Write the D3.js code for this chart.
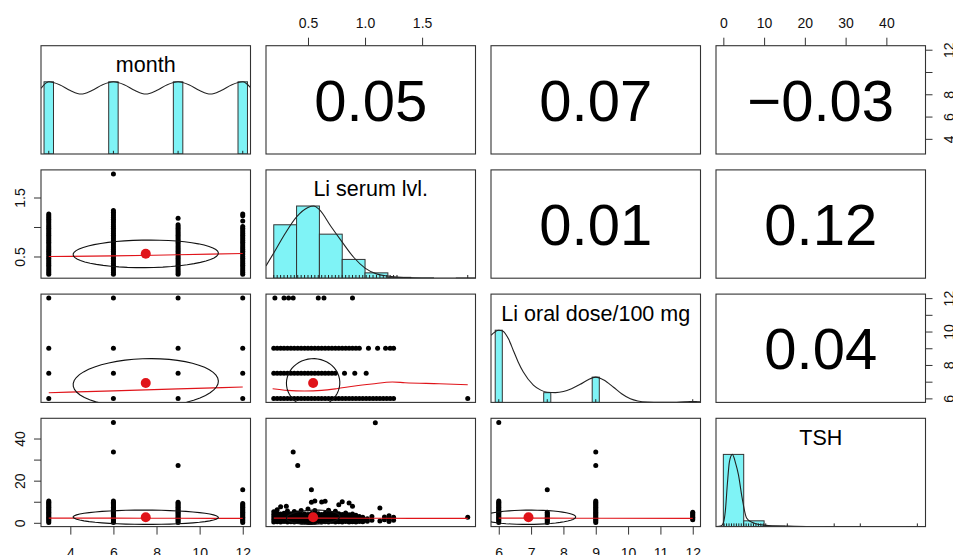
<!DOCTYPE html>
<html>
<head>
<meta charset="utf-8">
<script src="https://cdn.jsdelivr.net/npm/d3@7"></script>
<style>
  body { margin: 0; background: #fff; }
  svg { display: block; font-family: "Liberation Sans", Arial, Helvetica, sans-serif; }
</style>
</head>
<body>
<div id="chart"></div>
<script>
// Variables (diagonal titles) and their plot ranges
var varNames = ["month", "Li serum lvl.", "Li oral dose/100 mg", "TSH"];
var domains = [[2.64, 12.36], [0.132, 1.968], [5.76, 12.24], [-1.8, 49.6]];

// Axis ticks
var monthTicks = [4, 6, 8, 10, 12];
var liTicks = [0.5, 1.0, 1.5];
var doseTicks = [6, 7, 8, 9, 10, 11, 12];
var tshTicks = [0, 10, 20, 30, 40];
var monthSideLabels = ["4", "6", "8", "", "12"];
var liSideLabels = ["0.5", "", "1.5"];
var doseSideLabels = ["6", "", "8", "", "10", "", "12"];
var tshSideLabels = ["0", "", "20", "", "40"];

// Correlations (upper panels)
var corrLabels = { "0-1": "0.05", "0-2": "0.07", "0-3": "\u22120.03", "1-2": "0.01", "1-3": "0.12", "2-3": "0.04" };
var corrValues = { "1-0": 0.05, "2-0": 0.07, "3-0": -0.03, "2-1": 0.01, "3-1": 0.12, "3-2": 0.04 };

// Means and standard deviations (for the red dot and ellipse)
var means = [7.5, 0.545, 6.92, 2.63];
var sds = [3.37, 0.234, 1.46, 3.4];

// Diagonal histograms (relative heights)
var monthValues = [3, 6, 9, 12];
var monthRel = [1, 1, 1, 1];
var doseValues = [6, 7.5, 9, 12];
var doseRel = [1, 0.135, 0.35, 0.012];
var liBreaks = [0.2, 0.4, 0.6, 0.8, 1.0, 1.2, 1.4, 1.6, 1.8, 2.0];
var liRel = [0.74, 1, 0.61, 0.26, 0.074, 0.012, 0.004, 0, 0.002];
var tshBreaks = [0, 5, 10, 15, 20, 25, 30, 35, 40, 45, 50];
var tshRel = [1, 0.08, 0.006, 0.002, 0, 0.001, 0.001, 0, 0, 0.001];

// Density curves (scaled to max 1)
var monthDens = [[2.64, 0.91], [3, 1.0], [3.5, 0.96], [4, 0.88], [4.5, 0.83], [5, 0.88], [5.5, 0.96], [6, 1.0],
  [6.5, 0.96], [7, 0.88], [7.5, 0.83], [8, 0.88], [8.5, 0.96], [9, 1.0], [9.5, 0.96], [10, 0.88], [10.5, 0.83],
  [11, 0.88], [11.5, 0.96], [12, 1.0], [12.36, 0.92]];
var liDens = [[0.132, 0.17], [0.2, 0.35], [0.3, 0.62], [0.4, 0.85], [0.5, 0.98], [0.55, 1.0], [0.6, 0.95],
  [0.7, 0.72], [0.8, 0.5], [0.9, 0.29], [1.0, 0.14], [1.1, 0.06], [1.2, 0.03], [1.3, 0.012], [1.4, 0.004],
  [1.5, 0], [1.968, 0]];
var doseDens = [[5.76, 0.93], [6.0, 1.0], [6.12, 0.99], [6.3, 0.88], [6.45, 0.72], [6.6, 0.56], [6.76, 0.42],
  [7.07, 0.24], [7.3, 0.17], [7.5, 0.14], [7.75, 0.135], [8.0, 0.15], [8.25, 0.19], [8.52, 0.25], [8.75, 0.31],
  [9.0, 0.35], [9.25, 0.31], [9.55, 0.21], [9.8, 0.12], [10.07, 0.05], [10.3, 0.02], [10.6, 0.005], [11.0, 0.001],
  [11.5, 0.002], [12.0, 0.012], [12.24, 0.01]];
var tshDens = [[-1.8, 0], [-0.5, 0.01], [0, 0.05], [0.5, 0.22], [1.0, 0.6], [1.5, 0.9], [2.2, 1.0], [3.0, 0.88],
  [3.7, 0.72], [4.6, 0.4], [5.7, 0.12], [7.0, 0.06], [8.0, 0.04], [10, 0.02], [12, 0.01], [16, 0.006],
  [20, 0.002], [30, 0.001], [49.6, 0]];

// Observed levels
var liLevels = [0.20, 0.23, 0.26, 0.29, 0.32, 0.35, 0.38, 0.41, 0.44, 0.47, 0.50, 0.53, 0.56, 0.59, 0.62, 0.65,
  0.68, 0.71, 0.74, 0.77, 0.80, 0.83, 0.86, 0.89, 0.92, 0.95, 0.98, 1.01, 1.04, 1.07, 1.10, 1.13, 1.16, 1.19,
  1.22, 1.25, 1.28];
var tshLevels = [0.2, 0.8, 1.4, 2.0, 2.6, 3.2, 3.8, 4.4, 5.0, 5.6, 6.2, 6.8, 7.4, 8.0, 8.6, 9.2, 9.8, 10.4];
var tshOutliers = [15.7, 27.2, 33.6, 47.6];

// Scatter groups
var monthLi = [
  { g: 3, lo: 0.2, top: 1.22, extra: [] },
  { g: 6, lo: 0.2, top: 1.28, extra: [1.9] },
  { g: 9, lo: 0.2, top: 1.04, extra: [1.15] },
  { g: 12, lo: 0.2, top: 1.01, extra: [1.10, 1.19, 1.22] }
];
var monthDose = [[3, [6, 7.5, 9, 12]], [6, [6, 7.5, 9, 12]], [9, [6, 7.5, 9, 12]], [12, [6, 7.5, 9, 12]]];
var monthTsh = [
  { g: 3, lo: 0.2, top: 10.4, extra: [] },
  { g: 6, lo: 0.2, top: 10.4, extra: [33.6, 47.6] },
  { g: 9, lo: 0.2, top: 9.8, extra: [27.2] },
  { g: 12, lo: 0.2, top: 9.2, extra: [15.7] }
];
var doseLi = [
  { g: 6, lo: 0.2, top: 1.25, extra: [1.9] },
  { g: 7.5, lo: 0.2, top: 0.74, extra: [0.82, 0.91, 1.01] },
  { g: 9, lo: 0.2, top: 0.95, extra: [1.03, 1.11, 1.18, 1.22, 1.25] },
  { g: 12, lo: 9, top: 0, extra: [0.21, 0.29, 0.33, 0.37, 0.59, 0.64, 0.89] }
];
var doseTsh = [
  { g: 6, lo: 0.2, top: 10.4, extra: [47.6] },
  { g: 7.5, lo: 0.2, top: 5.0, extra: [15.7] },
  { g: 9, lo: 0.2, top: 10.4, extra: [27.2, 33.6] },
  { g: 12, lo: 1.4, top: 5.0, extra: [] }
];
var liTsh = [
  [0.20, [0.4, 1.6, 2.8, 4.0, 5.2]], [0.23, [0.5, 1.7, 2.9, 4.4, 6.2]], [0.26, [0.4, 1.6, 3.0, 4.2, 7.6]],
  [0.29, [0.6, 1.8, 2.9, 4.5]], [0.31, [7.9]], [0.32, [0.4, 1.5, 2.7, 4.0, 5.6]], [0.35, [0.5, 1.7, 3.0, 4.3]],
  [0.37, [33.6]], [0.38, [0.4, 1.6, 2.8, 4.1, 5.4]], [0.41, [0.6, 1.8, 3.1, 4.6, 27.2]],
  [0.44, [0.4, 1.5, 2.7, 3.9, 5.8]], [0.47, [0.5, 1.7, 2.9, 4.2]], [0.50, [0.4, 1.6, 2.8, 4.0, 6.6]],
  [0.53, [0.5, 1.8, 3.0, 4.4, 9.8, 15.7]], [0.56, [0.4, 1.6, 2.7, 4.1, 5.9, 10.3]], [0.59, [0.6, 1.7, 2.9, 4.3]],
  [0.62, [0.4, 1.5, 2.8, 4.0, 9.9]], [0.65, [0.5, 1.7, 3.0, 4.5, 10.2]], [0.68, [0.4, 1.6, 2.8, 4.2, 6.0]],
  [0.71, [0.6, 1.8, 2.9, 4.4]], [0.74, [0.4, 1.5, 2.7, 3.9, 5.5]], [0.77, [0.5, 1.7, 3.0, 4.3, 8.6]],
  [0.80, [0.4, 1.6, 2.8, 4.0, 10.0]], [0.83, [0.6, 1.8, 3.0, 4.6]], [0.86, [0.4, 1.5, 2.7, 3.8, 9.4]],
  [0.89, [0.5, 1.7, 2.9, 4.2, 7.8]], [0.92, [0.4, 1.6, 2.8, 3.6]], [0.95, [0.6, 1.8, 3.0]],
  [0.98, [0.5, 1.6, 2.6]], [1.02, [0.7, 1.9]], [1.06, [1.2, 3.0]], [1.09, [47.5]], [1.13, [0.9, 7.0]],
  [1.17, [1.4, 2.8]], [1.21, [0.6, 2.1, 3.4]], [1.25, [1.2, 2.6]], [1.9, [2.6]]
];

// Smoothers (lowess)
var loess = {
  "1-0": [[3, 0.50], [6, 0.51], [9, 0.53], [12, 0.55]],
  "2-0": [[3, 6.34], [6, 6.45], [9, 6.57], [12, 6.68]],
  "3-0": [[3, 2.2], [6, 2.2], [9, 2.15], [12, 2.1]],
  "2-1": [[0.19, 6.58], [0.32, 6.48], [0.47, 6.44], [0.62, 6.48], [0.75, 6.58], [0.91, 6.74], [1.06, 6.86],
    [1.24, 6.98], [1.35, 6.94], [1.65, 6.88], [1.9, 6.82]],
  "3-1": [[0.2, 2.2], [0.6, 2.2], [1.0, 2.15], [1.4, 2.1], [1.9, 2.1]],
  "3-2": [[6, 2.2], [7.5, 2.2], [9, 2.15], [12, 2.1]]
};

//Set layout
var W = 953, H = 555;
var px0 = 41, py0 = 45.7, pw = 209.5, ph = 108.3, stepX = 225, stepY = 124.2;
var histCol = "#7ff3f6";

var svg = d3.select("#chart").append("svg")
    .attr("width", W)
    .attr("height", H);
svg.append("rect").attr("width", W).attr("height", H).attr("fill", "#fff");
svg.append("defs").append("clipPath").attr("id", "clip")
    .append("rect").attr("width", pw).attr("height", ph);

var xs = domains.map(function(d) { return d3.scaleLinear().domain(d).range([0, pw]); });
var ys = domains.map(function(d) { return d3.scaleLinear().domain(d).range([ph, 0]); });
var hy = d3.scaleLinear().domain([0, 1.5]).range([ph, 0]);

// Build the point lists from the groups
function fromGroups(groups, levels, groupIsX) {
    var pts = [];
    groups.forEach(function(gr) {
        levels.filter(function(v) { return v >= gr.lo && v <= gr.top; })
            .concat(gr.extra)
            .forEach(function(v) { pts.push(groupIsX ? [gr.g, v] : [v, gr.g]); });
    });
    return pts;
}
var points = {
    "1-0": fromGroups(monthLi, liLevels, true),
    "2-0": [],
    "3-0": fromGroups(monthTsh, tshLevels, true),
    "2-1": fromGroups(doseLi, liLevels, false),
    "3-1": [],
    "3-2": fromGroups(doseTsh, tshLevels, true)
};
monthDose.forEach(function(m) { m[1].forEach(function(v) { points["2-0"].push([m[0], v]); }); });
liTsh.forEach(function(l) { l[1].forEach(function(v) { points["3-1"].push([l[0], v]); }); });

var diag = [
    { values: monthValues, rel: monthRel, dens: monthDens, rug: monthValues },
    { breaks: liBreaks, rel: liRel, dens: liDens, rug: liLevels.concat([1.9]) },
    { values: doseValues, rel: doseRel, dens: doseDens, rug: doseValues },
    { breaks: tshBreaks, rel: tshRel, dens: tshDens, rug: tshLevels.concat(tshOutliers) }
];

// psych-style ellipse at one standard deviation
function ellipse(xm, ym, sx, sy, r) {
    var t = r === 0 ? 1 / Math.sqrt(2) : Math.sign(r) / Math.sqrt(2);
    var a = Math.sqrt(1 + r), b = Math.sqrt(1 - r);
    return d3.range(52).map(function(k) {
        var ang = k * 2 * Math.PI / 51, c = Math.cos(ang), s = Math.sin(ang);
        return [xm + sx * (c * a * t - s * b * t), ym + sy * (c * a * t + s * b * t)];
    });
}

for (var i = 0; i < 4; i++) {
    for (var j = 0; j < 4; j++) {
        var g = svg.append("g").attr("transform", "translate(" + (px0 + j * stepX) + "," + (py0 + i * stepY) + ")");
        var inner = g.append("g").attr("clip-path", "url(#clip)");
        var x = xs[j];

        if (i === j) {
            var d = diag[i];
            if (d.values) {
                var diffs = d3.pairs(d.values).map(function(p) { return p[1] - p[0]; });
                var half = d3.min(diffs) * (d.values.length - 1) / 41;
                inner.selectAll(".bar").data(d.values).enter().append("rect")
                    .attr("x", function(v) { return x(v - half); })
                    .attr("y", function(v, k) { return hy(d.rel[k]); })
                    .attr("width", function(v) { return x(v + half) - x(v - half); })
                    .attr("height", function(v, k) { return ph - hy(d.rel[k]); })
                    .attr("fill", histCol).attr("stroke", "#333").attr("stroke-width", 1);
            } else {
                inner.selectAll(".bar").data(d.rel).enter().append("rect")
                    .attr("x", function(v, k) { return x(d.breaks[k]); })
                    .attr("y", function(v) { return hy(v); })
                    .attr("width", function(v, k) { return x(d.breaks[k + 1]) - x(d.breaks[k]); })
                    .attr("height", function(v) { return ph - hy(v); })
                    .attr("fill", histCol).attr("stroke", "#333").attr("stroke-width", 1);
            }
            inner.append("path")
                .attr("d", d3.line().x(function(p) { return x(p[0]); }).y(function(p) { return hy(p[1]); })
                    .curve(d3.curveMonotoneX)(d.dens))
                .attr("fill", "none").attr("stroke", "#222").attr("stroke-width", 1.1);
            inner.selectAll(".rug").data(d.rug).enter().append("line")
                .attr("x1", function(v) { return x(v); }).attr("x2", function(v) { return x(v); })
                .attr("y1", ph).attr("y2", ph - 3.2)
                .attr("stroke", "#222").attr("stroke-width", 1);
            g.append("text")
                .attr("x", pw / 2).attr("y", 26.5)
                .attr("text-anchor", "middle")
                .style("font-size", "21.5px")
                .text(varNames[i]);
        } else if (i < j) {
            g.append("text")
                .attr("x", pw / 2).attr("y", ph / 2 + 21)
                .attr("text-anchor", "middle")
                .style("font-size", "58px")
                .text(corrLabels[i + "-" + j]);
        } else {
            var key = i + "-" + j, y = ys[i];
            inner.selectAll(".pt").data(points[key]).enter().append("circle")
                .attr("cx", function(p) { return x(p[0]); })
                .attr("cy", function(p) { return y(p[1]); })
                .attr("r", 2.5).attr("fill", "#000");
            inner.append("path")
                .attr("d", d3.line().x(function(p) { return x(p[0]); }).y(function(p) { return y(p[1]); })
                    .curve(d3.curveMonotoneX)(loess[key]))
                .attr("fill", "none").attr("stroke", "#e0141a").attr("stroke-width", 1.1);
            inner.append("path")
                .attr("d", d3.line().x(function(p) { return x(p[0]); }).y(function(p) { return y(p[1]); })
                    (ellipse(means[j], means[i], sds[j], sds[i], corrValues[key])))
                .attr("fill", "none").attr("stroke", "#111").attr("stroke-width", 1.1);
            inner.append("circle")
                .attr("cx", x(means[j])).attr("cy", y(means[i]))
                .attr("r", 5).attr("fill", "#e0141a");
        }

        g.append("rect").attr("width", pw).attr("height", ph)
            .attr("fill", "none").attr("stroke", "#333").attr("stroke-width", 1.1);
    }
}

// Axes
function styleAxis(sel) {
    sel.attr("font-family", null).attr("font-size", null).attr("color", "#333")
        .style("font-size", "14px");
    sel.select(".domain").remove();
    sel.selectAll(".tick text").attr("fill", "#111");
}
function rotateLabels(sel, offset) {
    sel.selectAll(".tick text")
        .attr("transform", "rotate(-90)")
        .attr("x", 0).attr("y", offset).attr("dy", null)
        .attr("text-anchor", "middle");
}

// bottom: month, dose
svg.append("g").attr("transform", "translate(" + px0 + "," + (py0 + 3 * stepY + ph) + ")")
    .call(d3.axisBottom(xs[0]).tickValues(monthTicks).tickSize(8).tickPadding(13).tickFormat(d3.format("d")))
    .call(styleAxis);
svg.append("g").attr("transform", "translate(" + (px0 + 2 * stepX) + "," + (py0 + 3 * stepY + ph) + ")")
    .call(d3.axisBottom(xs[2]).tickValues(doseTicks).tickSize(8).tickPadding(13).tickFormat(d3.format("d")))
    .call(styleAxis);
// top: Li, TSH
svg.append("g").attr("transform", "translate(" + (px0 + stepX) + "," + py0 + ")")
    .call(d3.axisTop(xs[1]).tickValues(liTicks).tickSize(8).tickPadding(9.4).tickFormat(d3.format(".1f")))
    .call(styleAxis);
svg.append("g").attr("transform", "translate(" + (px0 + 3 * stepX) + "," + py0 + ")")
    .call(d3.axisTop(xs[3]).tickValues(tshTicks).tickSize(8).tickPadding(9.4).tickFormat(d3.format("d")))
    .call(styleAxis);
// right: month, dose
svg.append("g").attr("transform", "translate(" + (px0 + 3 * stepX + pw) + "," + py0 + ")")
    .call(d3.axisRight(ys[0]).tickValues(monthTicks).tickSize(7).tickFormat(function(v, k) { return monthSideLabels[k]; }))
    .call(styleAxis).call(rotateLabels, 28.5);
svg.append("g").attr("transform", "translate(" + (px0 + 3 * stepX + pw) + "," + (py0 + 2 * stepY) + ")")
    .call(d3.axisRight(ys[2]).tickValues(doseTicks).tickSize(7).tickFormat(function(v, k) { return doseSideLabels[k]; }))
    .call(styleAxis).call(rotateLabels, 28.5);
// left: Li, TSH
svg.append("g").attr("transform", "translate(" + px0 + "," + (py0 + stepY) + ")")
    .call(d3.axisLeft(ys[1]).tickValues(liTicks).tickSize(7).tickFormat(function(v, k) { return liSideLabels[k]; }))
    .call(styleAxis).call(rotateLabels, -16);
svg.append("g").attr("transform", "translate(" + px0 + "," + (py0 + 3 * stepY) + ")")
    .call(d3.axisLeft(ys[3]).tickValues(tshTicks).tickSize(7).tickFormat(function(v, k) { return tshSideLabels[k]; }))
    .call(styleAxis).call(rotateLabels, -16);
</script>
</body>
</html>
